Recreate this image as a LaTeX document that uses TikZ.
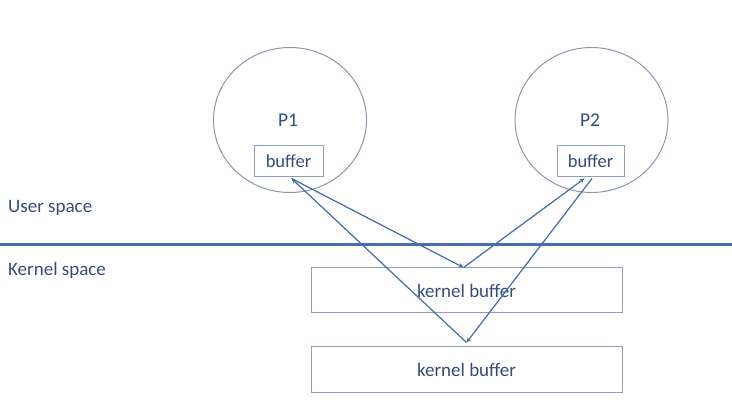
\documentclass[tikz,border=0pt]{standalone}
\usepackage{fontspec}
\setmainfont{Carlito}
\usetikzlibrary{shapes.geometric,arrows.meta,calc}
\definecolor{txtblue}{RGB}{52,76,125}
\definecolor{lineblue}{RGB}{72,108,176}
\definecolor{circgray}{RGB}{140,150,170}
\definecolor{boxgray}{RGB}{145,158,185}
\tikzset{
  proc/.style={ellipse, draw=circgray, line width=1pt, minimum width=153pt, minimum height=145pt, inner sep=0pt},
  plabel/.style={text=txtblue, font=\fontsize{19.5}{22}\selectfont, inner sep=0pt},
  ubuf/.style={rectangle, draw=boxgray, line width=1pt, minimum height=31pt, inner sep=0pt, text=txtblue, font=\fontsize{18.5}{21}\selectfont},
  kbuf/.style={rectangle, draw=boxgray, line width=1pt, minimum width=311pt, minimum height=45pt, inner sep=0pt, text=txtblue, font=\fontsize{19}{22}\selectfont},
  side/.style={text=txtblue, font=\fontsize{19}{22}\selectfont, anchor=west, inner sep=0pt},
  arr/.style={draw=lineblue, line width=1.25pt, -{Stealth[length=5pt,width=4.5pt]}}
}
\begin{document}
\begin{tikzpicture}[x=1pt,y=-1pt]
\useasboundingbox (0,0) rectangle (732,403);
% processes
\node[proc] (p1) at (290,120) {};
\node[proc] (p2) at (591.5,120) {};
\node[plabel] (p1l) at (288,120) {P1};
\node[plabel] (p2l) at (590,120) {P2};
\node[ubuf, minimum width=69pt] (b1) at (288.5,161.5) {buffer};
\node[ubuf, minimum width=67pt] (b2) at (590.5,161.5) {buffer};
% divider
\coordinate (dl) at (0,244.5);
\coordinate (dr) at (732,244.5);
\draw[lineblue, line width=2.2pt] (dl) -- (dr);
\node[side] (us) at (8,208) {User space};
\node[side] (ks) at (8,270) {Kernel space};
% kernel buffers
\node[kbuf] (k1) at (466.5,290.5) {kernel buffer};
\node[kbuf, minimum height=46pt] (k2) at (466.5,370) {kernel buffer};
% connectors
\coordinate (b1a) at ($(b1.south)+(3,1)$);
\coordinate (b2a) at ($(b2.south)+(-6,1)$);
\coordinate (b2b) at ($(b2.south)+(1.5,1)$);
\coordinate (k1a) at ($(k1.north)+(-3,0)$);
\coordinate (k2a) at ($(k2.north)+(0,-4)$);
\draw[arr] (b1a) -- (k1a);
\draw[arr] (k1a) -- (b2a);
\draw[arr] (b2b) -- (k2a);
\draw[arr] (k2a) -- (b1a);
\end{tikzpicture}
\end{document}
